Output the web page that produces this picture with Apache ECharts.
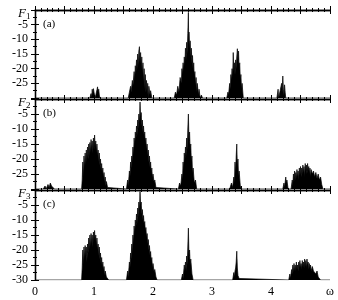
<!DOCTYPE html>
<html><head><meta charset="utf-8">
<script src="https://cdn.jsdelivr.net/npm/echarts@6/dist/echarts.min.js"></script>
<style>html,body{margin:0;padding:0;background:#fff}#c{width:338px;height:300px}</style>
</head><body><div id="c"></div>
<script>
// ---- data (omega, F in dB) ----
const panelNames = ['1', '2', '3'];
const panelTags = ['(a)', '(b)', '(c)'];
const xTicks = [0, 1, 2, 3, 4, 5];
const xTickLabels = ['0', '1', '2', '3', '4', 'ω'];
const yTicks = [0, -5, -10, -15, -20, -25, -30];

const f1Data = [
 [0,-30],[0.93,-30],[0.95,-28.5],[0.96,-30],[0.97,-27],[0.98,-29],[0.99,-26.8],[1.0,-28],[1.01,-27.5],[1.02,-30],[1.04,-30],[1.05,-27.2],[1.06,-26.2],[1.07,-28],[1.08,-27],[1.09,-29],[1.1,-30],
 [1.58,-30],[1.6,-28],[1.62,-26],[1.63,-28],[1.65,-24],[1.66,-26],[1.68,-21],[1.69,-24],[1.7,-19],[1.71,-22],[1.72,-17],[1.73,-20],[1.74,-15],[1.75,-19],[1.76,-14],[1.77,-12.5],[1.78,-18],[1.79,-14.5],[1.8,-20],[1.81,-16],[1.82,-22],[1.83,-18],[1.84,-25],[1.85,-20],[1.86,-27],[1.87,-22],[1.88,-28],[1.89,-24],[1.9,-29],[1.91,-25],[1.92,-30],[1.93,-26],[1.95,-29],[1.96,-27.5],[1.98,-30],
 [2.36,-30],[2.38,-28],[2.4,-29],[2.42,-26],[2.44,-28],[2.46,-23],[2.48,-25],[2.49,-20],[2.5,-22],[2.51,-18],[2.52,-21],[2.53,-16],[2.54,-19],[2.55,-13],[2.56,-17],[2.57,-11],[2.58,-15],[2.59,-8],[2.6,-0.8],[2.605,-12],[2.61,-7.5],[2.62,-13],[2.63,-10.5],[2.64,-16],[2.65,-13],[2.66,-18],[2.67,-15.5],[2.68,-21],[2.69,-18],[2.7,-23],[2.71,-21],[2.72,-26],[2.73,-23],[2.74,-28],[2.75,-25],[2.77,-29],[2.78,-27],[2.8,-30],[2.82,-29],[2.84,-30],
 [3.25,-30],[3.27,-28],[3.28,-29],[3.3,-25],[3.31,-27],[3.32,-22],[3.33,-24],[3.34,-20],[3.35,-23],[3.36,-14.5],[3.37,-21],[3.38,-18],[3.39,-22],[3.4,-17],[3.41,-20],[3.42,-16],[3.43,-13.2],[3.44,-17],[3.45,-14],[3.46,-20],[3.47,-18],[3.48,-24],[3.49,-22],[3.5,-27],[3.51,-25],[3.53,-30],
 [4.1,-30],[4.12,-27],[4.13,-30],[4.16,-30],[4.18,-25],[4.19,-28],[4.2,-22.5],[4.21,-27],[4.22,-29],[4.23,-25.5],[4.24,-28],[4.25,-30],[5,-30]
];

const f2Data = [
 [0,-30],[0.14,-30],[0.17,-29],[0.19,-30],[0.22,-28.5],[0.24,-29.5],[0.26,-28],[0.28,-29],[0.3,-28.8],[0.33,-30],
 [0.79,-30],[0.8,-27],[0.81,-21],[0.82,-26],[0.83,-19],[0.84,-23],[0.85,-18],[0.86,-22],[0.87,-17],[0.88,-21],[0.89,-16],[0.9,-20],[0.91,-15],[0.92,-19],[0.93,-14.5],[0.94,-18],[0.95,-13.5],[0.96,-17],[0.97,-14],[0.98,-18],[0.99,-13],[1.0,-17],[1.01,-12],[1.02,-16],[1.03,-14],[1.04,-18],[1.05,-15],[1.06,-19],[1.07,-17],[1.08,-21],[1.09,-18],[1.1,-22],[1.11,-20],[1.12,-24],[1.13,-21.5],[1.14,-25],[1.15,-23],[1.16,-26.5],[1.17,-24.5],[1.18,-28],[1.19,-26],[1.2,-29],[1.21,-27.5],[1.23,-29.5],[1.25,-30],
 [1.55,-30],[1.57,-27],[1.58,-29],[1.6,-24],[1.61,-26],[1.62,-21],[1.63,-23],[1.64,-19],[1.65,-21],[1.66,-16],[1.67,-19],[1.68,-13],[1.69,-16],[1.7,-11],[1.71,-14],[1.72,-9],[1.73,-12],[1.74,-7],[1.75,-10],[1.76,-5],[1.77,-8],[1.78,-1],[1.79,-6],[1.8,-4.5],[1.81,-9],[1.82,-7],[1.83,-11],[1.84,-9],[1.85,-13],[1.86,-11],[1.87,-15],[1.88,-13],[1.89,-17],[1.9,-15],[1.91,-19],[1.92,-17],[1.93,-21],[1.94,-19],[1.95,-23],[1.96,-21],[1.97,-25],[1.98,-23],[1.99,-26.5],[2.0,-25],[2.02,-28],[2.03,-27],[2.05,-29.5],[2.07,-30],
 [2.43,-30],[2.45,-28],[2.47,-29],[2.49,-25],[2.5,-27],[2.51,-21],[2.52,-24],[2.53,-18],[2.54,-21],[2.55,-16],[2.56,-19],[2.57,-13],[2.58,-17],[2.59,-10],[2.6,-5],[2.61,-14],[2.62,-11],[2.63,-17],[2.64,-15],[2.65,-21],[2.66,-19],[2.67,-25],[2.68,-23],[2.7,-28],[2.72,-27],[2.74,-30],
 [3.3,-30],[3.33,-28],[3.35,-29.5],[3.37,-26],[3.38,-28],[3.39,-21],[3.4,-25],[3.41,-19],[3.42,-15],[3.43,-23],[3.44,-20],[3.45,-26],[3.46,-24],[3.48,-29],[3.5,-30],
 [4.2,-30],[4.22,-28],[4.23,-29.5],[4.25,-26],[4.26,-28],[4.27,-27],[4.29,-30],[4.34,-30],[4.36,-27],[4.37,-29],[4.38,-25],[4.39,-27.5],[4.4,-24],[4.41,-27],[4.42,-24.5],[4.43,-26.5],[4.44,-23.5],[4.45,-26],[4.46,-24],[4.47,-27],[4.48,-23],[4.49,-25.5],[4.5,-22.5],[4.51,-26],[4.52,-23],[4.53,-25],[4.54,-22],[4.55,-24.5],[4.56,-22.5],[4.57,-26],[4.58,-21.5],[4.59,-24],[4.6,-22],[4.61,-25],[4.62,-21.5],[4.63,-24],[4.64,-22.5],[4.65,-25],[4.66,-23],[4.67,-26],[4.68,-23.5],[4.7,-25],[4.72,-24],[4.74,-26],[4.76,-24.5],[4.78,-26.5],[4.8,-25],[4.82,-27],[4.84,-26],[4.86,-28.5],[4.88,-30],[5,-30]
];

const f3Data = [
 [0,-30],
 [0.79,-30],[0.8,-26],[0.81,-20],[0.82,-25],[0.83,-19],[0.84,-23],[0.85,-18.5],[0.86,-22],[0.87,-19],[0.88,-24],[0.89,-18],[0.9,-21],[0.91,-16],[0.92,-20],[0.93,-15],[0.94,-19],[0.95,-14.5],[0.96,-18],[0.97,-15],[0.98,-19],[0.99,-14],[1.0,-17],[1.01,-13.5],[1.02,-17],[1.03,-15],[1.04,-19],[1.05,-16],[1.06,-20],[1.07,-18],[1.08,-22],[1.09,-19],[1.1,-23],[1.11,-21],[1.12,-25],[1.13,-22.5],[1.14,-26],[1.15,-24],[1.16,-27],[1.17,-25.5],[1.18,-28.5],[1.19,-27],[1.21,-29],[1.23,-28.5],[1.25,-30],
 [1.55,-30],[1.57,-27],[1.58,-29],[1.6,-24],[1.61,-26],[1.62,-21],[1.63,-23],[1.64,-18],[1.65,-21],[1.66,-15],[1.67,-18],[1.68,-12],[1.69,-15],[1.7,-10],[1.71,-13],[1.72,-8],[1.73,-11],[1.74,-6],[1.75,-9],[1.76,-4],[1.77,-7],[1.78,-0.5],[1.79,-5],[1.8,-4],[1.81,-8],[1.82,-6.5],[1.83,-10],[1.84,-8.5],[1.85,-12],[1.86,-10.5],[1.87,-14],[1.88,-12.5],[1.89,-16],[1.9,-14.5],[1.91,-18],[1.92,-16.5],[1.93,-20],[1.94,-18.5],[1.95,-22],[1.96,-20.5],[1.97,-24],[1.98,-22.5],[1.99,-26],[2.0,-24.5],[2.02,-27.5],[2.03,-26.5],[2.05,-29],[2.07,-30],
 [2.48,-30],[2.5,-28],[2.51,-29.5],[2.53,-25],[2.54,-27],[2.55,-24],[2.56,-27],[2.57,-22],[2.58,-25],[2.59,-19],[2.6,-12.7],[2.61,-22],[2.62,-20],[2.63,-25],[2.64,-23],[2.66,-28],[2.68,-30],
 [3.35,-30],[3.37,-27.5],[3.38,-29],[3.39,-27],[3.4,-26],[3.41,-24],[3.42,-20.4],[3.43,-26],[3.44,-28.5],[3.46,-29.5],[3.48,-30],
 [4.3,-30],[4.32,-28],[4.33,-29.5],[4.35,-26.5],[4.36,-28],[4.37,-25],[4.38,-27.5],[4.39,-24.5],[4.4,-27],[4.41,-25],[4.42,-27],[4.43,-24],[4.44,-26.5],[4.45,-25],[4.46,-27],[4.47,-24],[4.48,-26],[4.49,-23.5],[4.5,-26],[4.51,-24.5],[4.52,-26.5],[4.53,-23.5],[4.54,-25.5],[4.55,-24],[4.56,-26],[4.57,-23],[4.58,-25.5],[4.59,-23.5],[4.6,-26],[4.61,-23],[4.62,-25],[4.63,-24],[4.64,-26.5],[4.65,-24.5],[4.66,-26],[4.67,-25],[4.68,-27],[4.7,-25.5],[4.72,-27],[4.74,-26.5],[4.76,-28],[4.78,-27],[4.8,-29],[4.82,-28.5],[4.84,-30],[5,-30]
];
const allData = [f1Data, f2Data, f3Data];

// ---- layout ----
const grids = [
  {left: 35, width: 295, top: 10, height: 88},
  {left: 35, width: 295, top: 99, height: 90},
  {left: 35, width: 295, top: 190, height: 90}
];
const serif = '"Liberation Serif", "DejaVu Serif", serif';

const chart = echarts.init(document.getElementById('c'), null, {renderer: 'canvas'});
const xAxis = [], yAxis = [], series = [], graphic = [];
grids.forEach((g, i) => {
  const last = i === grids.length - 1;
  xAxis.push({
    type: 'value', gridIndex: i, min: xTicks[0], max: xTicks[xTicks.length - 1], interval: 0.5, position: 'bottom',
    axisLine: {lineStyle: {color: '#000', width: 1.3}},
    axisTick: {inside: true, length: 4, lineStyle: {color: '#000'}},
    minorTick: {show: true, splitNumber: 5, length: 2, lineStyle: {color: '#000'}},
    splitLine: {show: false},
    axisLabel: {show: last, margin: 6, fontFamily: serif, fontSize: 12, color: '#000',
      formatter: v => { const k = xTicks.indexOf(v); return k >= 0 ? xTickLabels[k] : ''; }}
  });
  xAxis.push({
    type: 'value', gridIndex: i, min: xTicks[0], max: xTicks[xTicks.length - 1], interval: 0.5, position: 'top',
    axisLine: {lineStyle: {color: '#000', width: 1.3}},
    axisTick: {inside: true, length: 4, lineStyle: {color: '#000'}},
    minorTick: {show: true, splitNumber: 5, length: 2, lineStyle: {color: '#000'}},
    splitLine: {show: false}, axisLabel: {show: false}
  });
  yAxis.push({
    type: 'value', gridIndex: i, min: yTicks[yTicks.length - 1], max: yTicks[0], interval: 5, position: 'left',
    axisLine: {show: true, lineStyle: {color: '#000', width: 1.3}},
    axisTick: {show: true, inside: true, length: 4, lineStyle: {color: '#000'}},
    minorTick: {show: true, splitNumber: 2, length: 2, lineStyle: {color: '#000'}},
    splitLine: {show: false},
    axisLabel: {margin: 7, fontFamily: serif, fontSize: 12, color: '#000',
      formatter: v => (v === 0 ? '' : (v === -30 && !last ? '' : String(v)))}
  });
  yAxis.push({
    type: 'value', gridIndex: i, min: yTicks[yTicks.length - 1], max: yTicks[0], interval: 5, position: 'right',
    axisLine: {show: true, lineStyle: {color: '#000', width: 1.3}},
    axisTick: {show: true, inside: true, length: 4, lineStyle: {color: '#000'}},
    minorTick: {show: true, splitNumber: 2, length: 2, lineStyle: {color: '#000'}},
    splitLine: {show: false}, axisLabel: {show: false}
  });
  series.push({
    type: 'line', xAxisIndex: 2 * i, yAxisIndex: 2 * i, data: allData[i],
    showSymbol: false, symbol: 'none', silent: true, animation: false,
    lineStyle: {color: '#000', width: 0.7},
    areaStyle: {color: '#000', opacity: 1, origin: 'start'}
  });
  graphic.push({
    type: 'text', left: 18, top: g.top - 3,
    style: {text: '{f|F}{s|' + panelNames[i] + '}', rich: {
      f: {fontFamily: serif, fontStyle: 'italic', fontSize: 13, fill: '#000'},
      s: {fontFamily: serif, fontSize: 9, fill: '#000', padding: [6, 0, 0, 0]}
    }}
  });
  graphic.push({
    type: 'text', left: 43, top: g.top + 9,
    style: {text: panelTags[i], fontFamily: serif, fontSize: 11, fill: '#000'}
  });
});

chart.setOption({
  animation: false,
  backgroundColor: '#fff',
  grid: grids.map(g => Object.assign({containLabel: false}, g)),
  xAxis, yAxis, series, graphic
});
</script></body></html>
